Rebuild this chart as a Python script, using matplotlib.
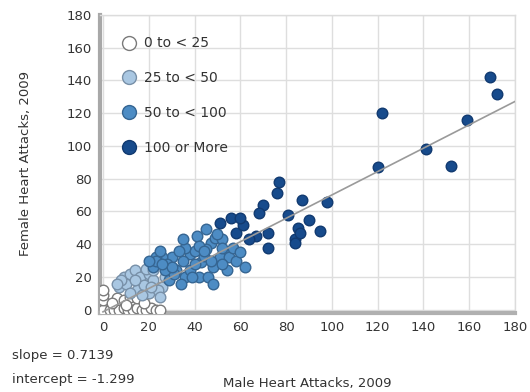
import matplotlib
matplotlib.use("Agg")
import matplotlib.pyplot as plt
from matplotlib.lines import Line2D
import numpy as np

# ---- data ----
labels = ["0 to < 25", "25 to < 50", "50 to < 100", "100 or More"]
fills = ["#ffffff", "#a9c7e2", "#4d8cc4", "#174b8c"]
edges = ["#7a7a7a", "#7890a8", "#356592", "#113a70"]

g0_x = [0, 0, 0, 0, 3, 5, 7, 9, 11, 13, 15, 17, 19, 21, 23, 25, 6, 9, 12, 15, 4, 10, 18]
g0_y = [0, 6, 9, 12, 0, 0, 0, 1, 0, 0, 1, 0, 0, 1, 0, 0, 7, 6, 8, 7, 4, 3, 4]

g1_x = [7, 9, 12, 15, 17, 20, 26, 10, 14, 16, 18, 20, 22, 24, 12, 8, 19, 25, 14, 22, 6, 17, 27, 21]
g1_y = [14, 20, 22, 12, 18, 10, 14, 16, 24, 20, 15, 22, 18, 12, 10, 18, 25, 8, 18, 24, 16, 9, 20, 14]

g2_x = [41, 45, 47, 45, 49, 52, 54, 51, 54, 48, 42, 43, 38, 35, 30, 26, 23, 22, 32, 36,
        29, 23, 52, 55, 58, 46, 62, 52, 40, 36, 33, 28, 25, 38, 44, 31, 27, 48, 57,
        34, 39, 30, 26, 20, 47, 42, 35, 60, 50, 40, 44]
g2_y = [45, 49, 41, 37, 44, 43, 35, 32, 24, 26, 20, 29, 34, 30, 32, 32, 32, 26, 24, 20,
        18, 30, 38, 32, 30, 20, 26, 28, 36, 38, 36, 28, 36, 24, 33, 22, 24, 16, 38,
        16, 20, 26, 28, 30, 30, 39, 43, 35, 46, 28, 36]

g3_x = [169, 172, 159, 122, 141, 120, 152, 98, 87, 77, 76, 70, 68, 81, 90, 85, 84, 86,
        95, 72, 72, 67, 58, 61, 56, 51, 84, 60, 64]
g3_y = [142, 132, 116, 120, 98, 87, 88, 66, 67, 78, 71, 64, 59, 58, 55, 50, 43, 47,
        48, 47, 38, 45, 47, 52, 56, 53, 41, 56, 43]

groups_x = [g0_x, g1_x, g2_x, g3_x]
groups_y = [g0_y, g1_y, g2_y, g3_y]

slope = 0.7139
intercept = -1.299

x_ticks = [0, 20, 40, 60, 80, 100, 120, 140, 160, 180]
y_ticks = [0, 20, 40, 60, 80, 100, 120, 140, 160, 180]

# ---- figure ----
fig = plt.figure(figsize=(5.30, 3.92), dpi=100)
ax = fig.add_axes([100/530, 1 - 313/392, 415/530, 298/392])

ax.set_xlim(-1.3, 178.4)
ax.set_ylim(-2, 180)
ax.set_xticks(x_ticks)
ax.set_yticks(y_ticks)
ax.tick_params(length=0, labelsize=9.5, colors="#333333", pad=6)
ax.grid(True, color="#dedede", lw=1)
ax.set_axisbelow(True)

for s in ["top", "right"]:
    ax.spines[s].set_color("#dcdcdc")
    ax.spines[s].set_linewidth(1)
ax.spines["left"].set_color("#a8a8a8")
ax.spines["left"].set_linewidth(3)
ax.spines["bottom"].set_color("#b0b0b0")
ax.spines["bottom"].set_linewidth(3)

for gx, gy, fc, ec in zip(groups_x, groups_y, fills, edges):
    ax.scatter(gx, gy, s=58, facecolor=fc, edgecolor=ec, linewidth=1.0, zorder=3)

lx = np.array([0, 180])
ax.plot(lx, slope * lx + intercept, color="#9a9a9a", lw=1.2, zorder=4)

handles = [Line2D([], [], marker="o", ls="none", markersize=10,
                  markerfacecolor=fc, markeredgecolor=ec, markeredgewidth=1.0)
           for fc, ec in zip(fills, edges)]
leg = ax.legend(handles, labels, loc="upper left", bbox_to_anchor=(0.02, 0.97),
                frameon=False, fontsize=10, labelspacing=1.5, handletextpad=0.45,
                handlelength=1.2)
for t in leg.get_texts():
    t.set_color("#333333")

ax.set_ylabel("Female Heart Attacks, 2009", fontsize=9.5, color="#333333", labelpad=25)
fig.text(307/530, 1 - 383/392, "Male Heart Attacks, 2009", fontsize=9.5,
         color="#333333", ha="center", va="center")
fig.text(12/530, 1 - 356/392, f"slope = {slope}", fontsize=9.5, color="#333333",
         ha="left", va="center")
fig.text(12/530, 1 - 379/392, f"intercept = {intercept}", fontsize=9.5,
         color="#333333", ha="left", va="center")

fig.savefig("out.png", dpi=100)
